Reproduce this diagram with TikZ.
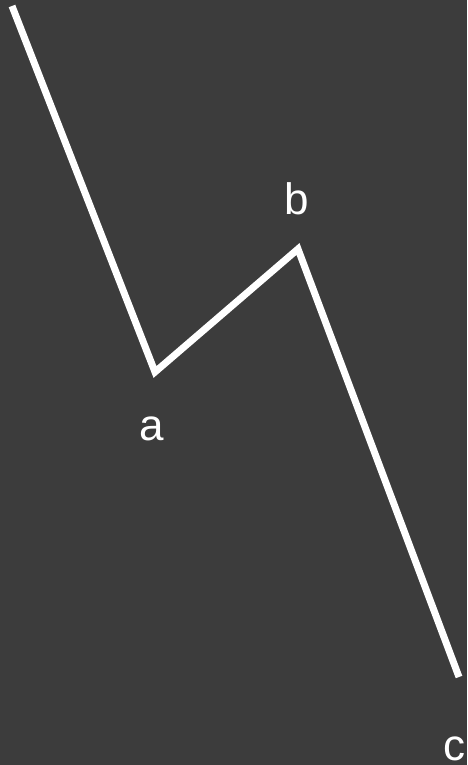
\documentclass[tikz,border=0pt]{standalone}
\usepackage{fontspec}
\setmainfont{Liberation Sans}
\usetikzlibrary{positioning}
\definecolor{slate}{RGB}{60,60,60}
\tikzset{
  zigzag/.style={white,line width=7pt},
  ptlabel/.style={white,font=\fontsize{44}{44}\selectfont,anchor=base,inner sep=0pt}
}

\begin{document}
\begin{tikzpicture}[x=1pt,y=-1pt]
    % background
    \fill[slate] (0,0) rectangle (467,765);
    \useasboundingbox (0,0) rectangle (467,765);
    % corner points
    \coordinate (start) at (12,6);
    \coordinate (pa) at (155,372);
    \coordinate (pb) at (298,249);
    \coordinate (pc) at (459,677);
    \draw[zigzag] (start) -- (pa) -- (pb) -- (pc);
    % labels
    \node[ptlabel] (la) at (152,440) {a};
    \node[ptlabel] (lb) at (297,214) {b};
    \node[ptlabel] (lc) at (454,760) {c};
\end{tikzpicture}
\end{document}
